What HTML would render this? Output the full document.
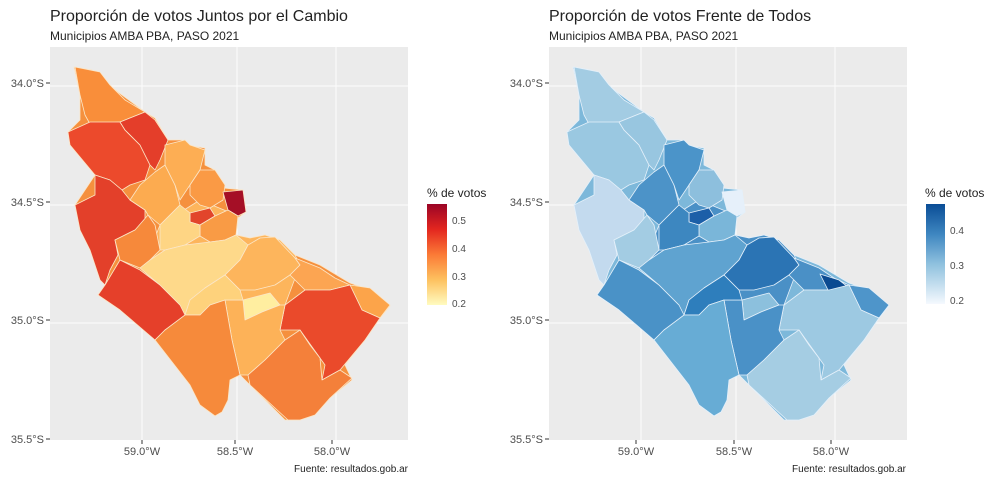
<!DOCTYPE html>
<html><head><meta charset="utf-8"><style>
html,body{margin:0;padding:0;background:#fff;}
svg{display:block;font-family:"Liberation Sans",sans-serif;}
</style></head><body>
<svg width="1000" height="480" viewBox="0 0 1000 480" xmlns="http://www.w3.org/2000/svg">
<defs>
<linearGradient id="gr" x1="0" y1="0" x2="0" y2="1">
<stop offset="0" stop-color="#9b0426"/><stop offset="0.25" stop-color="#e3261f"/><stop offset="0.5" stop-color="#fb7a36"/><stop offset="0.75" stop-color="#fdc15f"/><stop offset="1" stop-color="#fffbc0"/>
</linearGradient>
<linearGradient id="gb" x1="0" y1="0" x2="0" y2="1">
<stop offset="0" stop-color="#0a4d96"/><stop offset="0.3" stop-color="#3e86c0"/><stop offset="0.6" stop-color="#8fc1de"/><stop offset="1" stop-color="#f5f9fe"/>
</linearGradient>
</defs>
<rect width="1000" height="480" fill="#fff"/>

<!-- LEFT PANEL -->
<text x="50" y="21" font-size="16" fill="#222">Proporción de votos Juntos por el Cambio</text>
<text x="50" y="40" font-size="12" fill="#222">Municipios AMBA PBA, PASO 2021</text>
<rect x="50" y="47" width="358" height="393" fill="#ebebeb"/>
<g stroke="#fff" stroke-width="1" opacity="0.9">
<line x1="142" y1="47" x2="142" y2="440"/><line x1="237" y1="47" x2="237" y2="440"/><line x1="336" y1="47" x2="336" y2="440"/>
<line x1="50" y1="86" x2="408" y2="86"/><line x1="50" y1="205" x2="408" y2="205"/><line x1="50" y1="323" x2="408" y2="323"/>
</g>
<g stroke="#fbe6c8" stroke-width="0.8" stroke-linejoin="round">
<polygon fill="#f5903e" points="74,67 92,70 118,92 145,112 155,118 168,140 182,140 185,145 205,148 205,165 215,170 223,188 243,190 246,212 238,218 236,235 250,238 265,235 280,240 295,255 320,265 350,283 370,290 390,306 380,318 365,340 345,365 352,380 330,398 315,415 300,420 285,420 250,385 240,375 230,380 228,400 222,412 215,416 200,405 190,385 155,340 120,310 98,295 105,285 90,250 75,205 95,175 70,145 68,132 80,120 80,95"/>
<polygon fill="#fdb55c" points="160,225 200,200 236,215 236,235 250,238 265,235 280,240 295,255 300,265 285,305 245,320 200,315 185,315 160,285 140,268 150,250"/>
<polygon fill="#f98e3a" points="75,67 100,72 110,85 125,100 145,112 120,122 90,124 85,115 80,95"/>
<polygon fill="#ec4a2c" points="68,132 90,122 120,122 125,130 140,145 150,165 145,180 130,185 122,190 110,180 95,175 70,145"/>
<polygon fill="#e43e2a" points="120,122 145,112 155,120 168,140 160,160 155,170 150,165 140,145 125,130"/>
<polygon fill="#e3402a" points="95,175 110,180 122,190 130,200 145,210 145,225 135,230 115,240 118,255 110,270 105,285 100,280 90,250 80,230 75,205 95,195"/>
<polygon fill="#e5402a" points="105,285 120,260 140,270 160,285 180,305 190,315 165,330 155,340 120,310 98,295"/>
<polygon fill="#f6893b" points="115,240 135,230 148,215 155,225 160,250 150,260 140,268 120,260"/>
<polygon fill="#fcab50" points="130,200 140,185 155,172 165,165 175,185 180,205 160,225 148,215 145,210"/>
<polygon fill="#fdae54" points="165,145 185,140 190,145 205,150 200,170 190,185 180,200 175,185 165,165"/>
<polygon fill="#fa9a45" points="200,170 215,170 225,185 223,200 210,208 200,205 190,195 190,185"/>
<polygon fill="#a50f26" points="223,192 243,190 246,212 238,216 228,210"/>
<polygon fill="#e2452b" points="190,213 210,208 215,216 200,225 190,222"/>
<polygon fill="#f99b45" points="200,225 215,216 228,210 238,216 236,235 225,240 210,242 200,236"/>
<polygon fill="#fed584" points="160,225 180,205 190,213 190,222 200,225 200,236 185,245 165,250 160,250"/>
<polygon fill="#fed98a" points="140,268 150,260 165,250 185,245 210,242 225,240 236,235 248,245 240,260 225,275 205,288 190,300 185,315 180,305 160,285"/>
<polygon fill="#fdb55c" points="248,245 260,238 275,237 295,258 300,265 290,275 275,285 255,290 240,290 230,280 225,275 240,260"/>
<polygon fill="#fca552" points="295,258 320,268 335,278 350,285 330,290 305,290 290,275 300,265"/>
<polygon fill="#fca44a" points="350,285 370,288 390,305 380,318 362,310"/>
<polygon fill="#ea4a2b" points="285,305 305,290 330,290 350,285 362,310 380,318 365,340 340,370 322,380 325,365 300,330 280,330"/>
<polygon fill="#ffeea0" points="243,300 270,293 280,305 262,312 245,320"/>
<polygon fill="#fdb258" points="225,300 243,300 245,320 262,312 280,305 285,305 280,330 285,340 265,360 248,375 240,375 232,340"/>
<polygon fill="#fed27c" points="190,300 205,288 225,275 230,280 240,290 243,300 225,300 210,305 200,315 185,315"/>
<polygon fill="#f68a3b" points="155,340 165,330 185,315 200,315 210,305 225,300 232,340 240,375 230,380 228,400 222,412 215,416 200,405 190,385"/>
<polygon fill="#f4803a" points="248,375 265,360 285,340 300,330 310,345 320,358 322,380 340,370 352,378 330,398 315,415 300,420 288,420 250,385"/>
</g>
<g font-size="11" fill="#4d4d4d" text-anchor="end">
<text x="44" y="87">34.0°S</text><text x="44" y="206">34.5°S</text><text x="44" y="324">35.0°S</text><text x="44" y="443">35.5°S</text>
</g>
<g stroke="#333" stroke-width="1"><line x1="46" y1="83" x2="50" y2="83"/><line x1="46" y1="202" x2="50" y2="202"/><line x1="46" y1="320" x2="50" y2="320"/><line x1="46" y1="439" x2="50" y2="439"/>
<line x1="142" y1="440" x2="142" y2="444"/><line x1="235" y1="440" x2="235" y2="444"/><line x1="332" y1="440" x2="332" y2="444"/></g>
<g font-size="11" fill="#4d4d4d" text-anchor="middle"><text x="142" y="455">59.0°W</text><text x="235" y="455">58.5°W</text><text x="332" y="455">58.0°W</text></g>
<text x="408" y="472" font-size="10" fill="#222" text-anchor="end">Fuente: resultados.gob.ar</text>
<text x="427" y="197" font-size="12" fill="#222">% de votos</text>
<rect x="427" y="204" width="20" height="101" fill="url(#gr)"/>
<g font-size="10" fill="#4d4d4d"><text x="452" y="224">0.5</text><text x="452" y="252">0.4</text><text x="452" y="280">0.3</text><text x="452" y="307">0.2</text></g>

<!-- RIGHT PANEL -->
<text x="549" y="21" font-size="16" fill="#222">Proporción de votos Frente de Todos</text>
<text x="549" y="40" font-size="12" fill="#222">Municipios AMBA PBA, PASO 2021</text>
<rect x="549" y="47" width="358" height="393" fill="#ebebeb"/>
<g transform="translate(499,0)">
<g stroke="#fff" stroke-width="1" opacity="0.9">
<line x1="142" y1="47" x2="142" y2="440"/><line x1="237" y1="47" x2="237" y2="440"/><line x1="336" y1="47" x2="336" y2="440"/>
<line x1="50" y1="86" x2="408" y2="86"/><line x1="50" y1="205" x2="408" y2="205"/><line x1="50" y1="323" x2="408" y2="323"/>
</g>
<g stroke="#e4f0fa" stroke-width="0.8" stroke-linejoin="round">
<polygon fill="#7db8da" points="74,67 92,70 118,92 145,112 155,118 168,140 182,140 185,145 205,148 205,165 215,170 223,188 243,190 246,212 238,218 236,235 250,238 265,235 280,240 295,255 320,265 350,283 370,290 390,306 380,318 365,340 345,365 352,380 330,398 315,415 300,420 285,420 250,385 240,375 230,380 228,400 222,412 215,416 200,405 190,385 155,340 120,310 98,295 105,285 90,250 75,205 95,175 70,145 68,132 80,120 80,95"/>
<polygon fill="#4a90c6" points="160,225 200,200 236,215 236,235 250,238 265,235 280,240 295,255 300,265 285,305 245,320 200,315 185,315 160,285 140,268 150,250"/>
<polygon fill="#a3cce3" points="75,67 100,72 110,85 125,100 145,112 120,122 90,124 85,115 80,95"/>
<polygon fill="#9ac8e1" points="68,132 90,122 120,122 125,130 140,145 150,165 145,180 130,185 122,190 110,180 95,175 70,145"/>
<polygon fill="#98c6e0" points="120,122 145,112 155,120 168,140 160,160 155,170 150,165 140,145 125,130"/>
<polygon fill="#c3daee" points="95,175 110,180 122,190 130,200 145,210 145,225 135,230 115,240 118,255 110,270 105,285 100,280 90,250 80,230 75,205 95,195"/>
<polygon fill="#4a92c7" points="105,285 120,260 140,270 160,285 180,305 190,315 165,330 155,340 120,310 98,295"/>
<polygon fill="#a3cce3" points="115,240 135,230 148,215 155,225 160,250 150,260 140,268 120,260"/>
<polygon fill="#4c93c8" points="130,200 140,185 155,172 165,165 175,185 180,205 160,225 148,215 145,210"/>
<polygon fill="#4b94c9" points="165,145 185,140 190,145 205,150 200,170 190,185 180,200 175,185 165,165"/>
<polygon fill="#8dbfdd" points="200,170 215,170 225,185 223,200 210,208 200,205 190,195 190,185"/>
<polygon fill="#e6f0fa" points="223,192 243,190 246,212 238,216 228,210"/>
<polygon fill="#1c5fa8" points="190,213 210,208 215,216 200,225 190,222"/>
<polygon fill="#7ab6d9" points="200,225 215,216 228,210 238,216 236,235 225,240 210,242 200,236"/>
<polygon fill="#3d87c0" points="160,225 180,205 190,213 190,222 200,225 200,236 185,245 165,250 160,250"/>
<polygon fill="#5fa3d0" points="140,268 150,260 165,250 185,245 210,242 225,240 236,235 248,245 240,260 225,275 205,288 190,300 185,315 180,305 160,285"/>
<polygon fill="#2b74b4" points="248,245 260,238 275,237 295,258 300,265 290,275 275,285 255,290 240,290 230,280 225,275 240,260"/>
<polygon fill="#4a90c6" points="295,258 320,268 335,278 350,285 330,290 305,290 290,275 300,265"/>
<polygon fill="#0b4a91" points="321,274 340,280 358,294 350,298 330,292"/>
<polygon fill="#4e95ca" points="350,285 370,288 390,305 380,318 362,310"/>
<polygon fill="#9dc9e2" points="285,305 305,290 330,290 350,285 362,310 380,318 365,340 340,370 322,380 325,365 300,330 280,330"/>
<polygon fill="#8cc0dd" points="243,300 270,293 280,305 262,312 245,320"/>
<polygon fill="#4a91c7" points="225,300 243,300 245,320 262,312 280,305 285,305 280,330 285,340 265,360 248,375 240,375 232,340"/>
<polygon fill="#2e7ebc" points="190,300 205,288 225,275 230,280 240,290 243,300 225,300 210,305 200,315 185,315"/>
<polygon fill="#67acd5" points="155,340 165,330 185,315 200,315 210,305 225,300 232,340 240,375 230,380 228,400 222,412 215,416 200,405 190,385"/>
<polygon fill="#a5cde3" points="248,375 265,360 285,340 300,330 310,345 320,358 322,380 340,370 352,378 330,398 315,415 300,420 288,420 250,385"/>
</g>
</g>
<g font-size="11" fill="#4d4d4d" text-anchor="end">
<text x="543" y="87">34.0°S</text><text x="543" y="206">34.5°S</text><text x="543" y="324">35.0°S</text><text x="543" y="443">35.5°S</text>
</g>
<g stroke="#333" stroke-width="1"><line x1="545" y1="83" x2="549" y2="83"/><line x1="545" y1="202" x2="549" y2="202"/><line x1="545" y1="320" x2="549" y2="320"/><line x1="545" y1="439" x2="549" y2="439"/>
<line x1="636" y1="440" x2="636" y2="444"/><line x1="734" y1="440" x2="734" y2="444"/><line x1="831" y1="440" x2="831" y2="444"/></g>
<g font-size="11" fill="#4d4d4d" text-anchor="middle"><text x="636" y="455">59.0°W</text><text x="734" y="455">58.5°W</text><text x="831" y="455">58.0°W</text></g>
<text x="906" y="472" font-size="10" fill="#222" text-anchor="end">Fuente: resultados.gob.ar</text>
<text x="925" y="197" font-size="12" fill="#222">% de votos</text>
<rect x="926" y="204" width="19" height="100" fill="url(#gb)"/>
<g font-size="10" fill="#4d4d4d"><text x="950" y="234">0.4</text><text x="950" y="269">0.3</text><text x="950" y="304">0.2</text></g>
</svg>
</body></html>
